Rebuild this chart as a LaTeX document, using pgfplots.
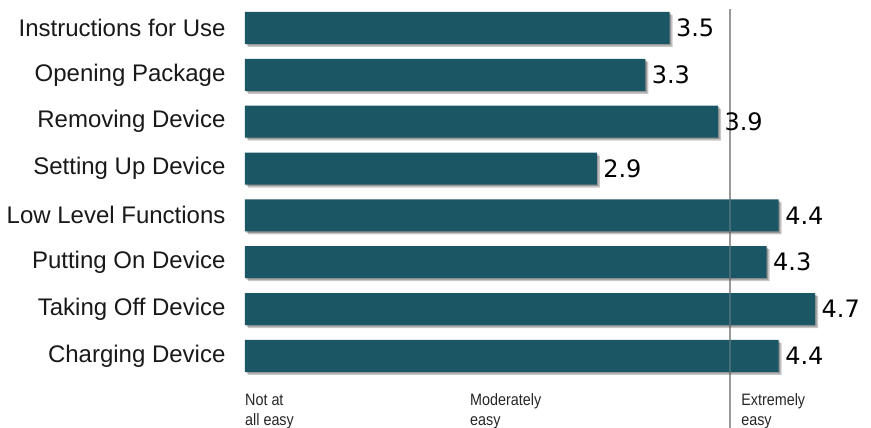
\documentclass[border=0pt]{standalone}
\usepackage{pgfplots}
\pgfplotsset{compat=1.18}
\usepackage{fontspec}
\setmainfont{Liberation Sans}
\newfontfamily\valfont{DejaVu Sans}
\newfontfamily\condfont[FakeStretch=0.87]{Liberation Sans}
\definecolor{barc}{RGB}{26,86,99}
\begin{document}
\begin{tikzpicture}
\path[use as bounding box] (-245pt,-48.6pt) rectangle (626pt,379.4pt);
\begin{axis}[at={(0,0)}, anchor=south west, scale only axis,
  width=606.5pt, height=374.9pt, xmin=0, xmax=5, ymin=0.5, ymax=8.5,
  xbar, bar width=32pt, bar shift=0pt,
  axis line style={draw=none}, xtick=\empty,
  ytick={1,...,8},
  yticklabels={Charging Device, Taking Off Device, Putting On Device, Low Level Functions, Setting Up Device, Removing Device, Opening Package, Instructions for Use},
  major tick length=0pt,
  yticklabel style={font=\fontsize{24}{26}\selectfont, color=black!90, xshift=-16pt},
  clip=false]
\draw[color=black!40, line width=2pt] (axis cs:4,8.4) -- (axis cs:4,-0.54);
\addplot[draw=none, fill=black, fill opacity=0.22, transform canvas={xshift=3pt,yshift=-3pt}] coordinates {(3.5,8) (3.3,7) (3.9,6) (2.9,5) (4.4,4) (4.3,3) (4.7,2) (4.4,1)};
\addplot[draw=none, fill=black, fill opacity=0.25, transform canvas={xshift=1.5pt,yshift=-1.5pt}] coordinates {(3.5,8) (3.3,7) (3.9,6) (2.9,5) (4.4,4) (4.3,3) (4.7,2) (4.4,1)};
\addplot[draw=none, fill=barc, nodes near coords, point meta=x,
  every node near coord/.append style={font=\valfont\fontsize{24}{26}\selectfont, color=black, anchor=west, xshift=3pt, /pgf/number format/fixed, /pgf/number format/precision=1, /pgf/number format/assume math mode=true}]
  coordinates {(3.5,8) (3.3,7) (3.9,6) (2.9,5) (4.4,4) (4.3,3) (4.7,2) (4.4,1)};
\draw[color=black!40, opacity=0.35, line width=1.5pt] (axis cs:4,8.4) -- (axis cs:4,0.5);
\node[anchor=north west, align=left, font=\condfont\fontsize{16.5}{20}\selectfont, inner sep=0pt, color=black!85] at (axis cs:0,0.2) {Not at\\all easy};
\node[anchor=north west, align=left, font=\condfont\fontsize{16.5}{20}\selectfont, inner sep=0pt, color=black!85] at (axis cs:1.855,0.2) {Moderately\\easy};
\node[anchor=north west, align=left, font=\condfont\fontsize{16.5}{20}\selectfont, inner sep=0pt, color=black!85] at (axis cs:4.09,0.2) {Extremely\\easy};
\end{axis}
\end{tikzpicture}
\end{document}
